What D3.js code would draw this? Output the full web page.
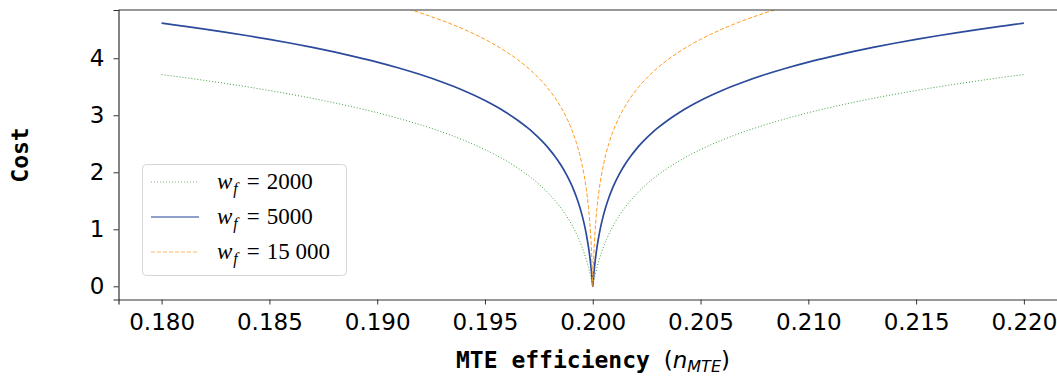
<!DOCTYPE html>
<html><head><meta charset="utf-8">
<script src="https://cdn.jsdelivr.net/npm/d3@7/dist/d3.min.js"></script>
<style>body{margin:0;background:#fff}svg{display:block}</style>
</head><body><svg id="c" width="1057" height="378"></svg>
<script>
// Offsets from the minimum at 0.200, mirrored on both sides
const offsets = [0, 0.00002, 0.00005, 0.0001, 0.00015, 0.0002, 0.0003, 0.0004, 0.0005, 0.0006, 0.00075, 0.0009, 0.001, 0.00125, 0.0015, 0.00175, 0.002, 0.00225, 0.0025, 0.00275, 0.003, 0.0035, 0.004, 0.0045, 0.005, 0.0055, 0.006, 0.0065, 0.007, 0.008, 0.009, 0.010, 0.011, 0.012, 0.013, 0.014, 0.015, 0.016, 0.017, 0.018, 0.019, 0.020];
const center = 0.2;
const cost2000  = [0, 0.039, 0.095, 0.182, 0.262, 0.336, 0.470, 0.588, 0.693, 0.788, 0.916, 1.030, 1.099, 1.253, 1.386, 1.504, 1.609, 1.705, 1.792, 1.872, 1.946, 2.079, 2.197, 2.303, 2.398, 2.485, 2.565, 2.639, 2.708, 2.833, 2.944, 3.045, 3.135, 3.219, 3.296, 3.367, 3.434, 3.497, 3.555, 3.611, 3.664, 3.714];
const cost5000  = [0, 0.095, 0.223, 0.405, 0.560, 0.693, 0.916, 1.099, 1.253, 1.386, 1.558, 1.705, 1.792, 1.981, 2.140, 2.277, 2.398, 2.506, 2.603, 2.692, 2.773, 2.918, 3.045, 3.157, 3.258, 3.350, 3.434, 3.512, 3.584, 3.714, 3.829, 3.932, 4.025, 4.111, 4.190, 4.263, 4.331, 4.394, 4.454, 4.511, 4.564, 4.615];
const cost15000 = [0, 0.262, 0.560, 0.916, 1.179, 1.386, 1.705, 1.946, 2.140, 2.303, 2.506, 2.674, 2.773, 2.983, 3.157, 3.305, 3.434, 3.548, 3.651, 3.744, 3.829, 3.980, 4.111, 4.227, 4.331, 4.425, 4.511, 4.590, 4.663, 4.796, 4.913, 5.017, 5.112, 5.198, 5.278, 5.352, 5.421, 5.485, 5.545, 5.602, 5.656, 5.707];
const seriesNames = ["2000", "5000", "15 000"];
const xTicks = [0.180, 0.185, 0.190, 0.195, 0.200, 0.205, 0.210, 0.215, 0.220];
const yTicks = [0, 1, 2, 3, 4];

function mirror(vals){
  const pts = [];
  for (let i = offsets.length - 1; i >= 0; i--) pts.push([center - offsets[i], vals[i]]);
  for (let i = 1; i < offsets.length; i++) pts.push([center + offsets[i], vals[i]]);
  return pts;
}
const series = [
  {name: seriesNames[0], data: mirror(cost2000),  color: "#3f9e3f", width: 1.0, dash: "1,2"},
  {name: seriesNames[1], data: mirror(cost5000),  color: "#2b4a9b", width: 1.7, dash: null},
  {name: seriesNames[2], data: mirror(cost15000), color: "#ff9b21", width: 1.0, dash: "4,2"}
];

const svg = d3.select("#c");
const L = 118.5, T = 10, R = 1067, B = 299.5;
const x = d3.scaleLinear().domain([0.178, 0.222]).range([L, R]);
const y = d3.scaleLinear().domain([-0.231, 4.846]).range([B, T]);

svg.append("defs").append("clipPath").attr("id","clip")
  .append("rect").attr("x", L).attr("y", T).attr("width", R - L).attr("height", B - T);

const line = d3.line().x(d => x(d[0])).y(d => y(d[1])).curve(d3.curveMonotoneX);
const g = svg.append("g").attr("clip-path","url(#clip)");
series.forEach(s => {
  g.append("path").attr("d", line(s.data)).attr("fill","none")
    .attr("stroke", s.color).attr("stroke-width", s.width)
    .attr("stroke-dasharray", s.dash);
});

// axes
const xAxis = svg.append("g").attr("transform", `translate(0,${B})`)
  .call(d3.axisBottom(x).tickValues(xTicks).tickFormat(d3.format(".3f")).tickSizeOuter(0).tickSize(5).tickPadding(9));
const yAxis = svg.append("g").attr("transform", `translate(${L},0)`)
  .call(d3.axisLeft(y).tickValues(yTicks).tickFormat(d3.format("d")).tickSizeOuter(0).tickSize(5).tickPadding(9));
[xAxis, yAxis].forEach(a => {
  a.select(".domain").attr("stroke","#333").attr("stroke-width",1.2);
  a.selectAll(".tick line").attr("stroke","#333").attr("stroke-width",1);
  a.selectAll("text").attr("font-family","DejaVu Sans").attr("font-size",23).attr("fill","#000");
});
// top spine
svg.append("line").attr("x1", L).attr("x2", R).attr("y1", T).attr("y2", T)
  .attr("stroke","#333").attr("stroke-width",1.2);

// axis labels
const xl = svg.append("text").attr("x", 593).attr("y", 368).attr("text-anchor","middle")
  .attr("font-size", 23).attr("fill","#000");
xl.append("tspan").attr("font-family","DejaVu Sans Mono").attr("font-weight","bold").text("MTE efficiency ");
xl.append("tspan").attr("font-family","DejaVu Sans").text("(");
xl.append("tspan").attr("font-family","DejaVu Sans").attr("font-style","italic").text("n");
xl.append("tspan").attr("font-family","DejaVu Sans").attr("font-style","italic").attr("font-size",16).attr("dy",4).text("MTE");
xl.append("tspan").attr("font-family","DejaVu Sans").attr("dy",-4).text(")");

svg.append("text").attr("transform","translate(28,155) rotate(-90)").attr("text-anchor","middle")
  .attr("font-family","DejaVu Sans Mono").attr("font-weight","bold").attr("font-size",23)
  .attr("fill","#000").text("Cost");

// legend
const lg = svg.append("g");
lg.append("rect").attr("x",142.5).attr("y",164.5).attr("width",204).attr("height",111)
  .attr("rx",4).attr("fill","#fff").attr("fill-opacity",0.8).attr("stroke","#d6d6d6").attr("stroke-width",1);
series.forEach((s, i) => {
  const yy = 182 + i * 35;
  lg.append("line").attr("x1",151).attr("x2",199).attr("y1",yy).attr("y2",yy)
    .attr("stroke", s.color).attr("stroke-width", s.width).attr("stroke-dasharray", s.dash).attr("stroke-opacity",0.7);
  const t = lg.append("text").attr("x",217).attr("y",yy + 7).attr("font-family","Liberation Serif")
    .attr("font-size",23).attr("fill","#000");
  t.append("tspan").attr("font-style","italic").text("w");
  t.append("tspan").attr("font-style","italic").attr("font-size",16).attr("dy",5).attr("dx",1).text("f");
  t.append("tspan").attr("dy",-5).attr("dx",9).text("=");
  t.append("tspan").attr("dx",7).text(s.name);
});
</script>
</body></html>
